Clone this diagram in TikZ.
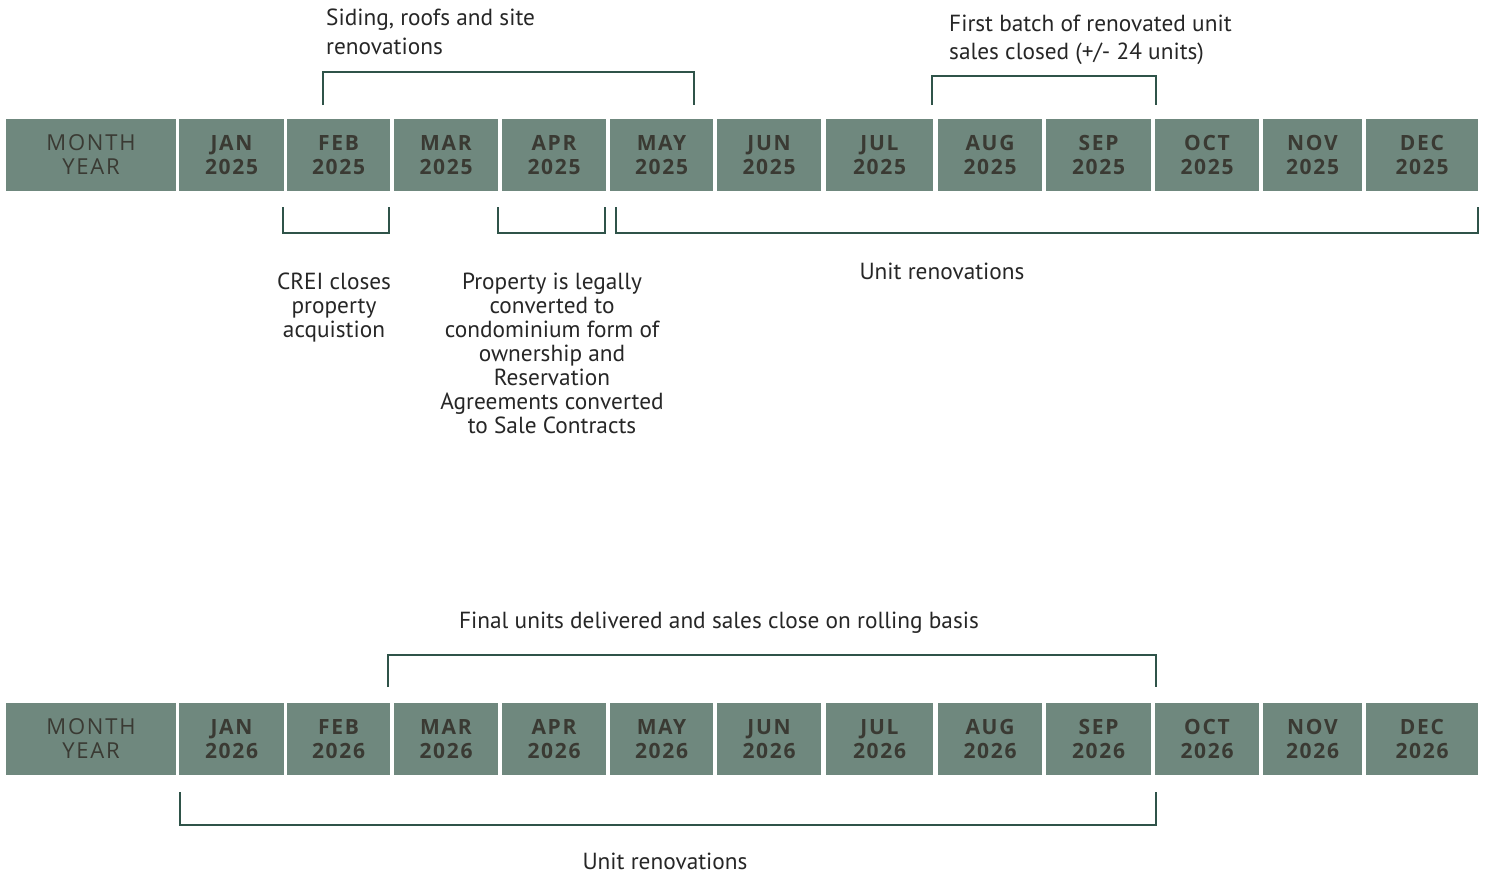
\documentclass[tikz,border=0pt]{standalone}
\usepackage{fontspec}
\usepackage{tikz}
\setmainfont{PT Sans}
\newfontfamily\headfont[LetterSpace=8]{Open Sans}
\definecolor{cellgreen}{HTML}{6F887E}
\definecolor{celltext}{HTML}{3A3A33}
\definecolor{brkgreen}{HTML}{2F5349}
\definecolor{notetext}{HTML}{262626}
\tikzset{
  cell/.style={fill=cellgreen, inner sep=0pt, minimum height=72pt, align=center,
    text=celltext, font=\headfont\bfseries\fontsize{21}{24}\selectfont},
  brk/.style={draw=brkgreen, line width=2.5pt},
  note/.style={inner sep=0pt, text=notetext, font=\fontsize{23.3}{24}\selectfont},
}
\begin{document}
\begin{tikzpicture}[x=1pt,y=-1pt]
\useasboundingbox (0,0) rectangle (1486,878);
% first year
\node[cell, minimum width=170pt, font=\headfont\fontsize{22}{24}\selectfont] (a0) at (91,155) {MONTH\\YEAR};
\foreach \l/\r/\mo [count=\i] in {179/284/JAN, 287/390/FEB, 394/498/MAR, 502/606/APR,
    610/713/MAY, 717/821/JUN, 826/933/JUL, 938/1042/AUG, 1046/1151/SEP,
    1155/1259/OCT, 1263/1362/NOV, 1366/1478/DEC}
  \node[cell, minimum width={\r-\l}] (a\i) at ({(\l+\r)/2},155) {\mo\\2025};
% second year
\node[cell, minimum width=170pt, font=\headfont\fontsize{22}{24}\selectfont] (b0) at (91,739) {MONTH\\YEAR};
\foreach \l/\r/\mo [count=\i] in {179/284/JAN, 287/390/FEB, 394/498/MAR, 502/606/APR,
    610/713/MAY, 717/821/JUN, 826/933/JUL, 938/1042/AUG, 1046/1151/SEP,
    1155/1259/OCT, 1263/1362/NOV, 1366/1478/DEC}
  \node[cell, minimum width={\r-\l}] (b\i) at ({(\l+\r)/2},739) {\mo\\2026};

% bracket ends
\coordinate (s1) at (323,105);  \coordinate (s2) at (694,105);
\coordinate (f1) at (932,105);  \coordinate (f2) at (1156,105);
\coordinate (c1) at (283,207);  \coordinate (c2) at (389,207);
\coordinate (p1) at (498,207);  \coordinate (p2) at (605,207);
\coordinate (u1) at (616,207);  \coordinate (u2) at (1478,207);
\coordinate (d1) at (388,687);  \coordinate (d2) at (1156,687);
\coordinate (v1) at (180,792);  \coordinate (v2) at (1156,792);

\draw[brk] (s1) -- ++(0,-33) -| (s2);
\draw[brk] (f1) -- ++(0,-29) -| (f2);
\draw[brk] (c1) -- ++(0,26) -| (c2);
\draw[brk] (p1) -- ++(0,26) -| (p2);
\draw[brk] (u1) -- ++(0,26) -| (u2);
\draw[brk] (d1) -- ++(0,-32) -| (d2);
\draw[brk] (v1) -- ++(0,33) -| (v2);

% labels
\node[note, align=left, anchor=north west, font=\fontsize{23.3}{29}\selectfont] (siding) at (326,9) {Siding, roofs and site\\renovations};
\node[note, align=left, anchor=north west, font=\fontsize{23.3}{28}\selectfont] (batch) at (949,15) {First batch of renovated unit\\sales closed (+/- 24 units)};
\node[note, align=center, anchor=north] (crei) at (334,273) {CREI closes\\property\\acquistion};
\node[note, align=center, anchor=north] (legal) at (552,273) {Property is legally\\converted to\\condominium form of\\ownership and\\Reservation\\Agreements converted\\to Sale Contracts};
\node[note, anchor=north] (reno1) at (942,263) {Unit renovations};
\node[note, anchor=north] (final) at (719,612) {Final units delivered and sales close on rolling basis};
\node[note, anchor=north] (reno2) at (665,853) {Unit renovations};
\end{tikzpicture}
\end{document}
